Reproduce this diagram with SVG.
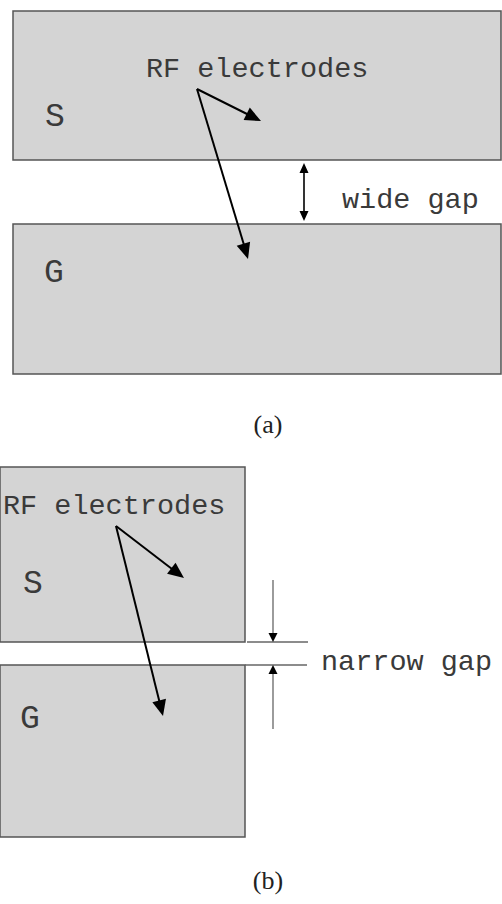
<svg xmlns="http://www.w3.org/2000/svg" width="502" height="904" viewBox="0 0 502 904">
<style>
.el{fill:#d4d4d4;stroke:#555;stroke-width:1.5}
.lbl{font-family:"Liberation Mono","Courier New",monospace;font-size:28.5px;fill:#3a3a3a}
.big{font-size:33px}
.cap{font-family:"Liberation Serif",serif;font-size:26px;fill:#222}
.ptr{stroke:#000;stroke-width:2;fill:none}
.dim{stroke:#000;stroke-width:1.6;fill:none}
.thin{stroke:#666;stroke-width:1.3;fill:none}
.head{fill:#000}
</style>
<g id="panel-a">
<g id="a-S"><rect class="el" x="13" y="11" width="488" height="149"/><text class="lbl big" x="45" y="126">S</text></g>
<g id="a-G"><rect class="el" x="13" y="224" width="488" height="150"/><text class="lbl big" x="44" y="282">G</text></g>
<g id="a-label"><text class="lbl" x="146" y="77">RF electrodes</text></g>
<g id="a-gaplabel"><text class="lbl" x="342" y="208">wide gap</text></g>
<g id="a-caption"><text class="cap" x="268" y="433" text-anchor="middle">(a)</text></g>
</g>
<g id="panel-b">
<g id="b-S"><rect class="el" x="0" y="467" width="245" height="175"/><text class="lbl big" x="23" y="593">S</text></g>
<g id="b-G"><rect class="el" x="0" y="665" width="245" height="172"/><text class="lbl big" x="20" y="728">G</text></g>
<g id="b-label"><text class="lbl" x="3" y="514">RF electrodes</text></g>
<g id="b-gaplabel"><text class="lbl" x="321" y="670">narrow gap</text></g>
<g id="b-caption"><text class="cap" x="268" y="889" text-anchor="middle">(b)</text></g>
</g>
<g id="connectors">
<line class="ptr" x1="197" y1="89" x2="248" y2="114.5"/>
<polygon class="head" points="261,121 243.6,120.1 249.8,107.6"/>
<line class="ptr" x1="197" y1="89" x2="244" y2="245"/>
<polygon class="head" points="248,259 236.7,245.7 250.1,241.7"/>
<line class="dim" x1="304" y1="170" x2="304" y2="214"/>
<path class="head" d="M304,163 L299.5,173 L308.5,173 z M304,221 L299.5,211 L308.5,211 z"/>
<line class="ptr" x1="116" y1="526" x2="172" y2="569"/>
<polygon class="head" points="184,578 167.05,573.86 175.55,562.74"/>
<line class="ptr" x1="116" y1="526" x2="159.5" y2="702"/>
<polygon class="head" points="163,716 152.36,702.18 165.96,698.82"/>
<line class="thin" x1="247" y1="642" x2="308" y2="642"/>
<line class="thin" x1="245" y1="665" x2="307" y2="665"/>
<line class="thin" x1="273" y1="580" x2="273" y2="636"/>
<path class="head" d="M273,642 L268.5,633 L277.5,633 z"/>
<line class="thin" x1="273" y1="671" x2="273" y2="729"/>
<path class="head" d="M273,665 L268.5,674 L277.5,674 z"/>
</g>
</svg>
